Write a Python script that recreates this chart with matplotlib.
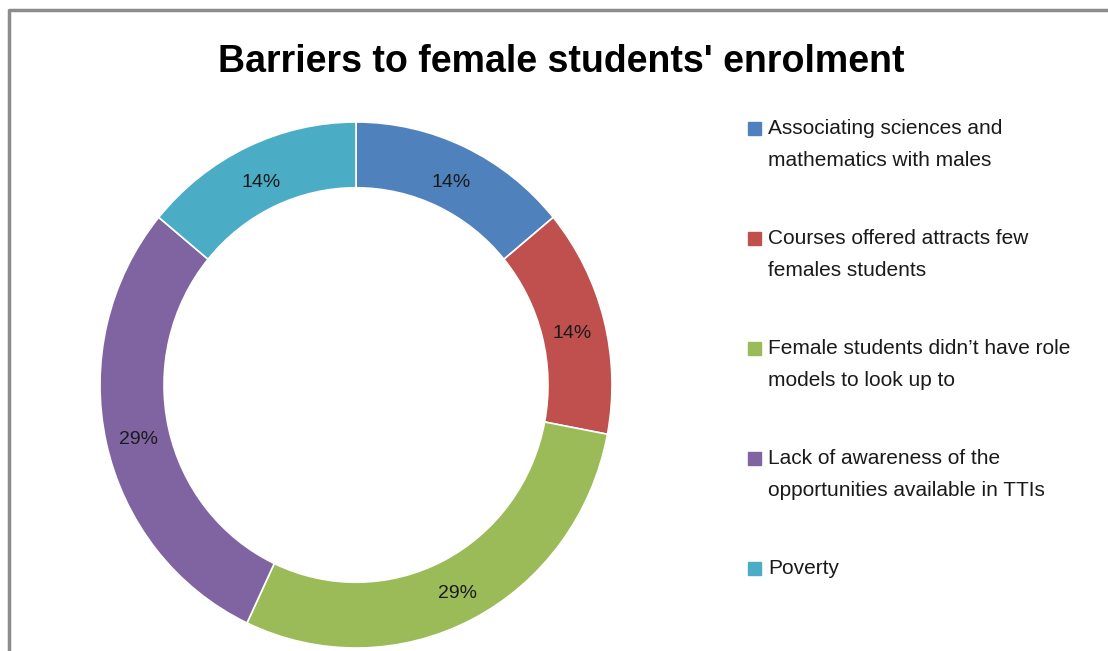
import matplotlib
matplotlib.use("Agg")
import matplotlib.pyplot as plt
import matplotlib.transforms as mtransforms
from matplotlib.patches import Rectangle

plt.rcParams['font.family'] = ['Liberation Sans', 'DejaVu Sans']

title = "Barriers to female students' enrolment"
labels = ["Associating sciences and\nmathematics with males",
          "Courses offered attracts few\nfemales students",
          "Female students didn\u2019t have role\nmodels to look up to",
          "Lack of awareness of the\nopportunities available in TTIs",
          "Poverty"]
shares = [14, 14, 29, 29, 14]
colors = ["#4F81BD", "#C0504D", "#9BBB59", "#8064A2", "#4BACC6"]

W, H = 1108, 651
fig = plt.figure(figsize=(W / 100, H / 100), dpi=100)

# background axes in pixel units for frame, title and legend
bg = fig.add_axes([0, 0, 1, 1])
bg.set_xlim(0, W)
bg.set_ylim(H, 0)
bg.axis('off')
bg.plot([9, 9, W + 20], [H + 20, 10, 10], color='#8c8c8c', lw=2.5, solid_capstyle='butt')

bg.text(561, 62, title, fontsize=27, fontweight='bold', ha='center', va='center',
        color='black')

# legend entries, one text per line
tops = [128, 238, 348, 458, 568]
for lab, col, y in zip(labels, colors, tops):
    bg.add_patch(Rectangle((748, y - 6.5), 13, 13, color=col))
    for i, line in enumerate(lab.split("\n")):
        bg.text(768, y + 1 + i * 31.5, line, fontsize=15, ha='left', va='center',
                color='#1a1a1a')

# the doughnut sits in its own slightly wider-than-tall box
cx, cy, rx, ry = 356, 385, 256, 263
ax = fig.add_axes([(cx - rx) / W, 1 - (cy + ry) / H, 2 * rx / W, 2 * ry / H])
wedges, texts = ax.pie(shares, colors=colors, startangle=90, counterclock=False, radius=1,
                       wedgeprops=dict(width=0.25, edgecolor='white', linewidth=1.2),
                       labels=[f"{s}%" for s in shares], labeldistance=0.87,
                       textprops=dict(fontsize=14, color='#1a1a1a', ha='center',
                                      va='center_baseline'))
# nudge the percentage labels down a little
shift = mtransforms.ScaledTranslation(0, -3 / 100, fig.dpi_scale_trans)
for t in texts:
    t.set_transform(t.get_transform() + shift)
ax.set_aspect('auto')
ax.set_xlim(-1, 1)
ax.set_ylim(-1, 1)
ax.axis('off')

fig.savefig("out.png", dpi=100)
